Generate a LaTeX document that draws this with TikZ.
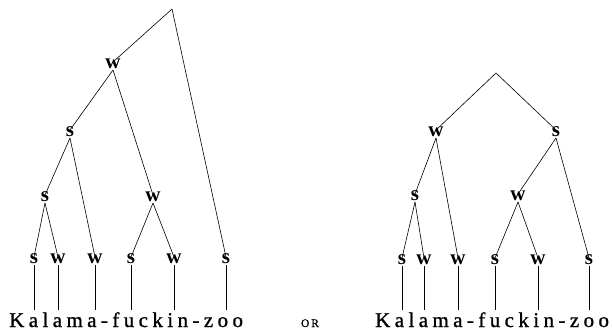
\documentclass[tikz,border=0pt]{standalone}
\usepackage{fontspec}
\setmainfont{Liberation Serif}
\usepackage{tikz}
\newcommand{\lblfont}{\fontsize{21}{23}\selectfont\bfseries}
\newcommand{\wordfont}{\fontsize{21}{24}\selectfont\addfontfeature{LetterSpace=21,FakeBold=1}}
\newcommand{\orfont}{\fontsize{11.5}{13}\selectfont\addfontfeature{FakeBold=1}}
\usetikzlibrary{calc,positioning}
\tikzset{
  lbl/.style={font=\lblfont,inner sep=1.5pt,text height=1ex,text depth=0pt},
  word/.style={font=\wordfont,anchor=base west,inner xsep=0pt,inner ysep=2pt},
  line/.style={draw,line width=0.6pt},
}

\begin{document}
\begin{tikzpicture}[x=1pt,y=-1pt]
      \useasboundingbox (0,0) rectangle (613,333);
      % left tree
      \coordinate (lroot) at (172,9);
      \node (lw1) [lbl] at (113,66) {w};
      \node (ls2) [lbl] at (70,134) {s};
      \node (ls3) [lbl] at (45,199) {s};
      \node (lw3) [lbl] at (153,199) {w};
      \node (ll1) [lbl] at (34,261) {s};
      \node (ll2) [lbl] at (58,261) {w};
      \node (ll3) [lbl] at (95,261) {w};
      \node (ll4) [lbl] at (131,261) {s};
      \node (ll5) [lbl] at (174,261) {w};
      \node (ll6) [lbl] at (226,261) {s};
      \node (lword) [word] at (9,327) {Kalama-fuckin-zoo\hspace{-4.4pt}};
      \path [line] (lroot) -- (lw1.north);
      \path [line] (lroot) -- (ll6.north);
      \path [line] (lw1.south) -- (ls2.north);
      \path [line] (lw1.south) -- (lw3.north);
      \path [line] (ls2.south) -- (ls3.north);
      \path [line] (ls2.south) -- (ll3.north);
      \path [line] (ls3.south) -- (ll1.north);
      \path [line] (ls3.south) -- (ll2.north);
      \path [line] (lw3.south) -- (ll4.north);
      \path [line] (lw3.south) -- (ll5.north);
      \path [line] (ll1.south) -- (ll1.south |- lword.north);
      \path [line] (ll2.south) -- (ll2.south |- lword.north);
      \path [line] (ll3.south) -- (ll3.south |- lword.north);
      \path [line] (ll4.south) -- (ll4.south |- lword.north);
      \path [line] (ll5.south) -- (ll5.south |- lword.north);
      \path [line] (ll6.south) -- (ll6.south |- lword.north);
      % or
      \node (or) [font=\orfont,anchor=base,inner sep=0pt] at (310,327) {O\,R};
      % right tree
      \coordinate (rroot) at (496,73);
      \node (rw1) [lbl] at (436,134) {w};
      \node (rs1) [lbl] at (556,134) {s};
      \node (rs2) [lbl] at (415,198) {s};
      \node (rw2) [lbl] at (518,198) {w};
      \node (rl1) [lbl] at (402,262) {s};
      \node (rl2) [lbl] at (424,262) {w};
      \node (rl3) [lbl] at (458,262) {w};
      \node (rl4) [lbl] at (495,262) {s};
      \node (rl5) [lbl] at (538,262) {w};
      \node (rl6) [lbl] at (589,262) {s};
      \node (rword) [word] at (375,327) {Kalama-fuckin-zoo\hspace{-4.4pt}};
      \path [line] (rroot) -- (rw1.north);
      \path [line] (rroot) -- (rs1.north);
      \path [line] (rw1.south) -- (rs2.north);
      \path [line] (rw1.south) -- (rl3.north);
      \path [line] (rs1.south) -- (rw2.north);
      \path [line] (rs1.south) -- (rl6.north);
      \path [line] (rs2.south) -- (rl1.north);
      \path [line] (rs2.south) -- (rl2.north);
      \path [line] (rw2.south) -- (rl4.north);
      \path [line] (rw2.south) -- (rl5.north);
      \path [line] (rl1.south) -- (rl1.south |- rword.north);
      \path [line] (rl2.south) -- (rl2.south |- rword.north);
      \path [line] (rl3.south) -- (rl3.south |- rword.north);
      \path [line] (rl4.south) -- (rl4.south |- rword.north);
      \path [line] (rl5.south) -- (rl5.south |- rword.north);
      \path [line] (rl6.south) -- (rl6.south |- rword.north);
\end{tikzpicture}
\end{document}
